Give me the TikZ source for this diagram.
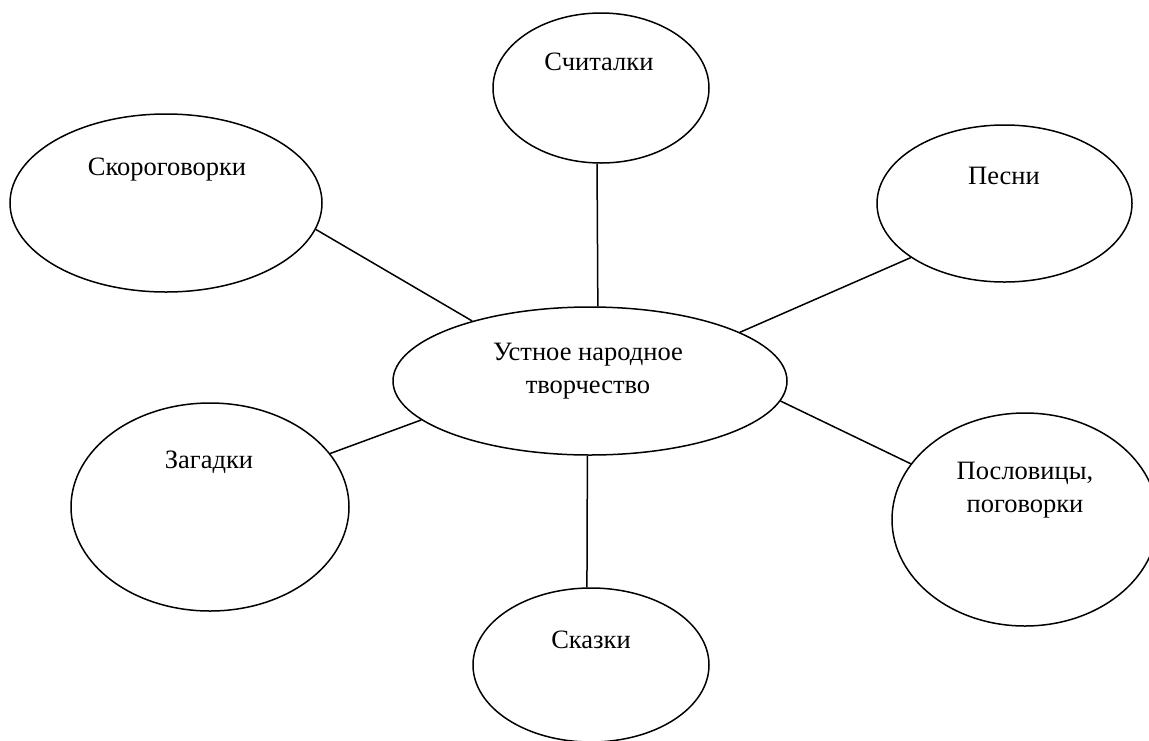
\documentclass[tikz,border=0pt]{standalone}
\usepackage{fontspec}
\setmainfont{Liberation Serif}
\usetikzlibrary{shapes.geometric,calc}

\tikzset{
  bubble/.style={draw=black, line width=1.5pt, ellipse, inner sep=0pt, fill=white},
  caption/.style={font=\fontsize{26.5}{33}\selectfont, align=center, inner sep=0pt},
  link/.style={draw=black, line width=1.5pt}
}

\begin{document}
\begin{tikzpicture}[x=1pt, y=-1pt]
  \useasboundingbox (0,0) rectangle (1149,740);
  \clip (0,0) rectangle (1149,740);
  \fill[white] (0,0) rectangle (1149,740);

  % the central theme and the six genres around it
  \node[bubble, minimum width=394pt, minimum height=148pt] (C) at (590,381) {};
  \node[bubble, minimum width=216pt, minimum height=150pt] (S) at (601,88) {};
  \node[bubble, minimum width=312pt, minimum height=178pt] (K) at (166,203) {};
  \node[bubble, minimum width=255pt, minimum height=157pt] (P) at (1004.5,203.5) {};
  \node[bubble, minimum width=278pt, minimum height=208pt] (Z) at (210,507) {};
  \node[bubble, minimum width=266pt, minimum height=213pt] (PP) at (1025,519.5) {};
  \node[bubble, minimum width=236pt, minimum height=154pt] (SK) at (591,665) {};

  % captions
  \node[caption] (tC) at (588,371.5) {Устное народное\\творчество};
  \node[caption] (tS) at (599,62) {Считалки};
  \node[caption] (tK) at (167,170) {Скороговорки};
  \node[caption] (tP) at (1004,176) {Песни};
  \node[caption] (tZ) at (209,462) {Загадки};
  \node[caption] (tPP) at (1025,490) {Пословицы,\\поговорки};
  \node[caption] (tSK) at (591,640) {Сказки};

  % spokes
  \draw[link] (S.-93.1) -- (C.84.6);
  \draw[link] (K.-10.8) -- (C.153);
  \draw[link] (P.210.5) -- (C.18);
  \draw[link] (Z.24.7) -- (C.193.4);
  \draw[link] (PP.154.2) -- (C.-6.9);
  \draw[link] (SK.93) -- (C.-92.3);
\end{tikzpicture}
\end{document}
